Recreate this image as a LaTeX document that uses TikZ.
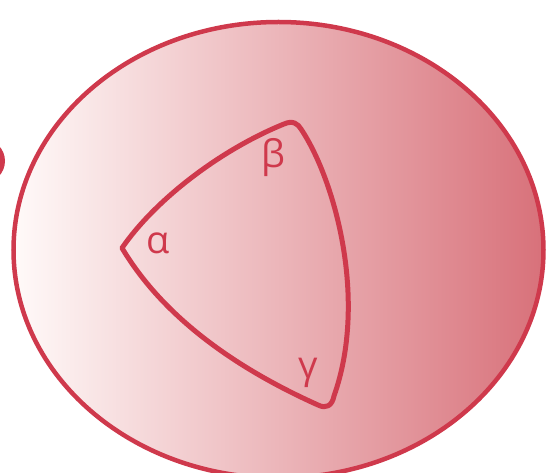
\documentclass[tikz,border=0pt]{standalone}
\usepackage{fontspec}
\setmainfont{Open Sans}
\usepackage{xcolor}
\usetikzlibrary{positioning}
\definecolor{rimred}{RGB}{207,57,76}
\definecolor{paleend}{RGB}{255,250,249}
\definecolor{midend}{RGB}{237,192,186}
\definecolor{deepend}{RGB}{216,113,122}
\tikzset{
    rim/.style={draw=rimred, line width=4.5pt},
    tri/.style={draw=rimred, line width=5pt, line join=round},
    angle/.style={text=rimred, font=\fontsize{38}{44}\selectfont, inner sep=0pt}
}

\begin{document}
\begin{tikzpicture}[x=1pt, y=-1pt]
    % Frame
    \clip (0,0) rectangle (547,473);

    % Small dot on the left edge
    \fill[rimred] (-17,161) circle (22);

    % Shaded ellipse
    \shade[left color=paleend, middle color=midend, right color=deepend]
        (278.5,250) ellipse [x radius=265, y radius=228];
    \draw[rim] (278.5,250) ellipse [x radius=265, y radius=228];

    % Curved triangle
    \coordinate (A) at (122,248);
    \draw[tri] (A) .. controls (155,200) and (220,150) .. (284,124)
        .. controls (293,120) and (298,124) .. (301,129)
        .. controls (335,180) and (368,300) .. (334,396)
        .. controls (332,406) and (326,409) .. (318,405)
        .. controls (240,370) and (165,320) .. (A) -- cycle;

    % Angle labels
    \node[angle] (alpha) at (158,243) {α};
    \node[angle] (beta) at (273,158) {β};
    \node[angle] (gamma) at (308,373) {γ};
\end{tikzpicture}
\end{document}
